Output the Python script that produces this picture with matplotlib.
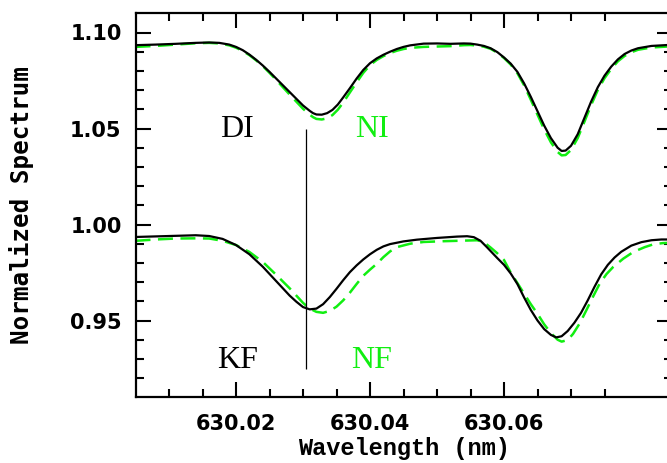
import matplotlib
matplotlib.use("Agg")
import matplotlib.pyplot as plt
import numpy as np

# Upper pair of profiles (DI black, NI green)
wl_di = [630.005, 630.008, 630.011, 630.014, 630.016, 630.0175, 630.019, 630.020,
         630.021, 630.022, 630.023, 630.024, 630.025, 630.026, 630.027, 630.028,
         630.029, 630.030, 630.031, 630.0315, 630.032, 630.0328, 630.0336, 630.0344,
         630.0352, 630.036, 630.037, 630.038, 630.039, 630.040, 630.041, 630.042,
         630.043, 630.044, 630.045, 630.046, 630.048, 630.050, 630.052, 630.054,
         630.055, 630.056, 630.057, 630.058, 630.059, 630.060, 630.061, 630.062,
         630.063, 630.064, 630.065, 630.066, 630.067, 630.068, 630.0686, 630.0692,
         630.070, 630.071, 630.072, 630.073, 630.074, 630.075, 630.076, 630.077,
         630.078, 630.079, 630.080, 630.082, 630.085]
fl_di = [1.0934, 1.0937, 1.0941, 1.0946, 1.0948, 1.0946, 1.0937, 1.0925,
         1.0908, 1.0885, 1.0858, 1.0828, 1.0795, 1.0760, 1.0725, 1.0690,
         1.0655, 1.0620, 1.0592, 1.0580, 1.0573, 1.0572, 1.0580, 1.0597,
         1.0625, 1.0662, 1.0710, 1.0760, 1.0805, 1.0840, 1.0865, 1.0884,
         1.0900, 1.0914, 1.0925, 1.0933, 1.0942, 1.0943, 1.0941, 1.0943,
         1.0942, 1.0937, 1.0930, 1.0918, 1.0898, 1.0870, 1.0838, 1.0795,
         1.0735, 1.0665, 1.0590, 1.0515, 1.0450, 1.0400, 1.0383, 1.0385,
         1.0410, 1.0470, 1.0555, 1.0640, 1.0715, 1.0775, 1.0822, 1.0860,
         1.0888, 1.0906, 1.0918, 1.0930, 1.0936]

wl_ni = wl_di
fl_ni = [1.0925, 1.0930, 1.0937, 1.0944, 1.0946, 1.0943, 1.0933, 1.0921,
         1.0904, 1.0882, 1.0855, 1.0825, 1.0790, 1.0753, 1.0715, 1.0677,
         1.0640, 1.0603, 1.0572, 1.0559, 1.0550, 1.0547, 1.0553, 1.0570,
         1.0598, 1.0635, 1.0688, 1.0740, 1.0790, 1.0830, 1.0857, 1.0877,
         1.0893, 1.0905, 1.0914, 1.0920, 1.0925, 1.0927, 1.0929, 1.0934,
         1.0935, 1.0932, 1.0926, 1.0915, 1.0895, 1.0867, 1.0833, 1.0788,
         1.0725, 1.0650, 1.0572, 1.0495, 1.0428, 1.0378, 1.0360, 1.0362,
         1.0388, 1.0450, 1.0535, 1.0622, 1.0700, 1.0762, 1.0810, 1.0850,
         1.0878, 1.0897, 1.0910, 1.0922, 1.0928]

# Lower pair of profiles (KF black, NF green)
wl_kf = [630.005, 630.008, 630.011, 630.014, 630.016, 630.018, 630.020, 630.022,
         630.024, 630.026, 630.028, 630.029, 630.030, 630.031, 630.032, 630.033,
         630.034, 630.035, 630.036, 630.037, 630.038, 630.039, 630.040, 630.041,
         630.042, 630.043, 630.045, 630.047, 630.050, 630.053, 630.0545, 630.0555,
         630.0565, 630.0575, 630.059, 630.060, 630.061, 630.062, 630.063, 630.064,
         630.065, 630.066, 630.067, 630.0678, 630.0686, 630.0695, 630.0705, 630.0715,
         630.0725, 630.0735, 630.0745, 630.0755, 630.0765, 630.0775, 630.079, 630.0805,
         630.082, 630.0835, 630.085]
fl_kf = [0.9935, 0.9938, 0.9941, 0.9944, 0.9940, 0.9925, 0.9893, 0.9845,
         0.9780, 0.9705, 0.9630, 0.9598, 0.9570, 0.9558, 0.9562, 0.9585,
         0.9622, 0.9665, 0.9710, 0.9752, 0.9787, 0.9818, 0.9845, 0.9868,
         0.9886, 0.9898, 0.9912, 0.9921, 0.9930, 0.9937, 0.9939, 0.9934,
         0.9915, 0.9880, 0.9825, 0.9790, 0.9745, 0.9690, 0.9620, 0.9555,
         0.9500, 0.9455, 0.9425, 0.9412, 0.9418, 0.9445, 0.9488, 0.9540,
         0.9605, 0.9675, 0.9740, 0.9790, 0.9828, 0.9858, 0.9890, 0.9908,
         0.9918, 0.9922, 0.9922]

wl_nf = [630.005, 630.008, 630.011, 630.014, 630.016, 630.018, 630.020, 630.022,
         630.024, 630.026, 630.028, 630.029, 630.030, 630.031, 630.032, 630.033,
         630.034, 630.035, 630.036, 630.037, 630.038, 630.039, 630.040, 630.041,
         630.042, 630.043, 630.044, 630.046, 630.048, 630.051, 630.054, 630.056,
         630.057, 630.058, 630.059, 630.060, 630.061, 630.062, 630.063, 630.064,
         630.065, 630.066, 630.067, 630.068, 630.0686, 630.0695, 630.0703, 630.0713,
         630.0723, 630.0733, 630.0743, 630.0753, 630.0763, 630.0778, 630.0793, 630.081,
         630.0823, 630.0837, 630.085]
fl_nf = [0.9915, 0.9922, 0.9927, 0.9928, 0.9927, 0.9915, 0.9893, 0.9857,
         0.9805, 0.9738, 0.9668, 0.9630, 0.9592, 0.9562, 0.9545, 0.9540,
         0.9550, 0.9572, 0.9605, 0.9645, 0.9690, 0.9733, 0.9765, 0.9795,
         0.9830, 0.9860, 0.9882, 0.9900, 0.9909, 0.9913, 0.9916, 0.9918,
         0.9908, 0.9880, 0.9850, 0.9815, 0.9750, 0.9695, 0.9640, 0.9585,
         0.9535, 0.9480, 0.9435, 0.9400, 0.9390, 0.9398, 0.9430, 0.9485,
         0.9554, 0.9625, 0.9693, 0.9742, 0.9779, 0.9822, 0.9857, 0.9882,
         0.9897, 0.9903, 0.9905]

line_pos = 630.0305
labels = ["DI", "NI", "KF", "NF"]
green = "#11ee11"

fig = plt.figure(figsize=(6.67, 4.63), dpi=100)
ax = fig.add_axes([135.5 / 667, (463 - 397.3) / 463, 536 / 667, 384 / 463])

ax.plot(wl_di, fl_di, color="black", lw=1.6, zorder=3)
ax.plot(wl_ni, fl_ni, color=green, lw=1.8, dashes=[6, 3], zorder=2)
ax.plot(wl_kf, fl_kf, color="black", lw=1.6, zorder=3)
ax.plot(wl_nf, fl_nf, color=green, lw=1.8, dashes=[6, 3], zorder=2)
ax.vlines(line_pos, 0.925, 1.050, color="black", lw=0.9)

tfont = dict(family="Liberation Serif", fontsize=23, ha="center", va="center")
ax.text(630.0202, 1.0496, labels[0], color="black", **tfont)
ax.text(630.0403, 1.0496, labels[1], color=green, **tfont)
ax.text(630.0203, 0.9294, labels[2], color="black", **tfont)
ax.text(630.0402, 0.9294, labels[3], color=green, **tfont)

ax.set_xlim(630.005, 630.085)
ax.set_ylim(0.91, 1.11)
ax.set_xticks([630.02, 630.04, 630.06])
ax.set_xticklabels(["630.02", "630.04", "630.06"])
ax.set_xticks([630.01, 630.015, 630.025, 630.03, 630.035, 630.045, 630.05,
               630.055, 630.065, 630.07, 630.075], minor=True)
ax.set_yticks([0.95, 1.00, 1.05, 1.10])
ax.set_yticklabels(["0.95", "1.00", "1.05", "1.10"])
ax.set_yticks(np.arange(0.92, 1.105, 0.01), minor=True)

ax.tick_params(which="both", direction="in", top=True, right=True, width=1.5)
ax.tick_params(which="major", length=10.5, pad=10, labelsize=15)
ax.tick_params(axis="x", which="major", pad=12)
ax.tick_params(which="minor", length=6)
for lab in ax.get_xticklabels() + ax.get_yticklabels():
    lab.set_fontweight("bold")
for s in ax.spines.values():
    s.set_linewidth(1.6)

ax.set_xlabel("Wavelength (nm)", family="Liberation Mono", fontweight="bold", fontsize=17)
ax.set_ylabel("Normalized Spectrum", family="DejaVu Sans Mono", fontweight="bold", fontsize=17.5)
ax.xaxis.set_label_coords(0.5, -0.104)
ax.yaxis.set_label_coords(-0.19, 0.5)

fig.savefig("out.png", dpi=100)
